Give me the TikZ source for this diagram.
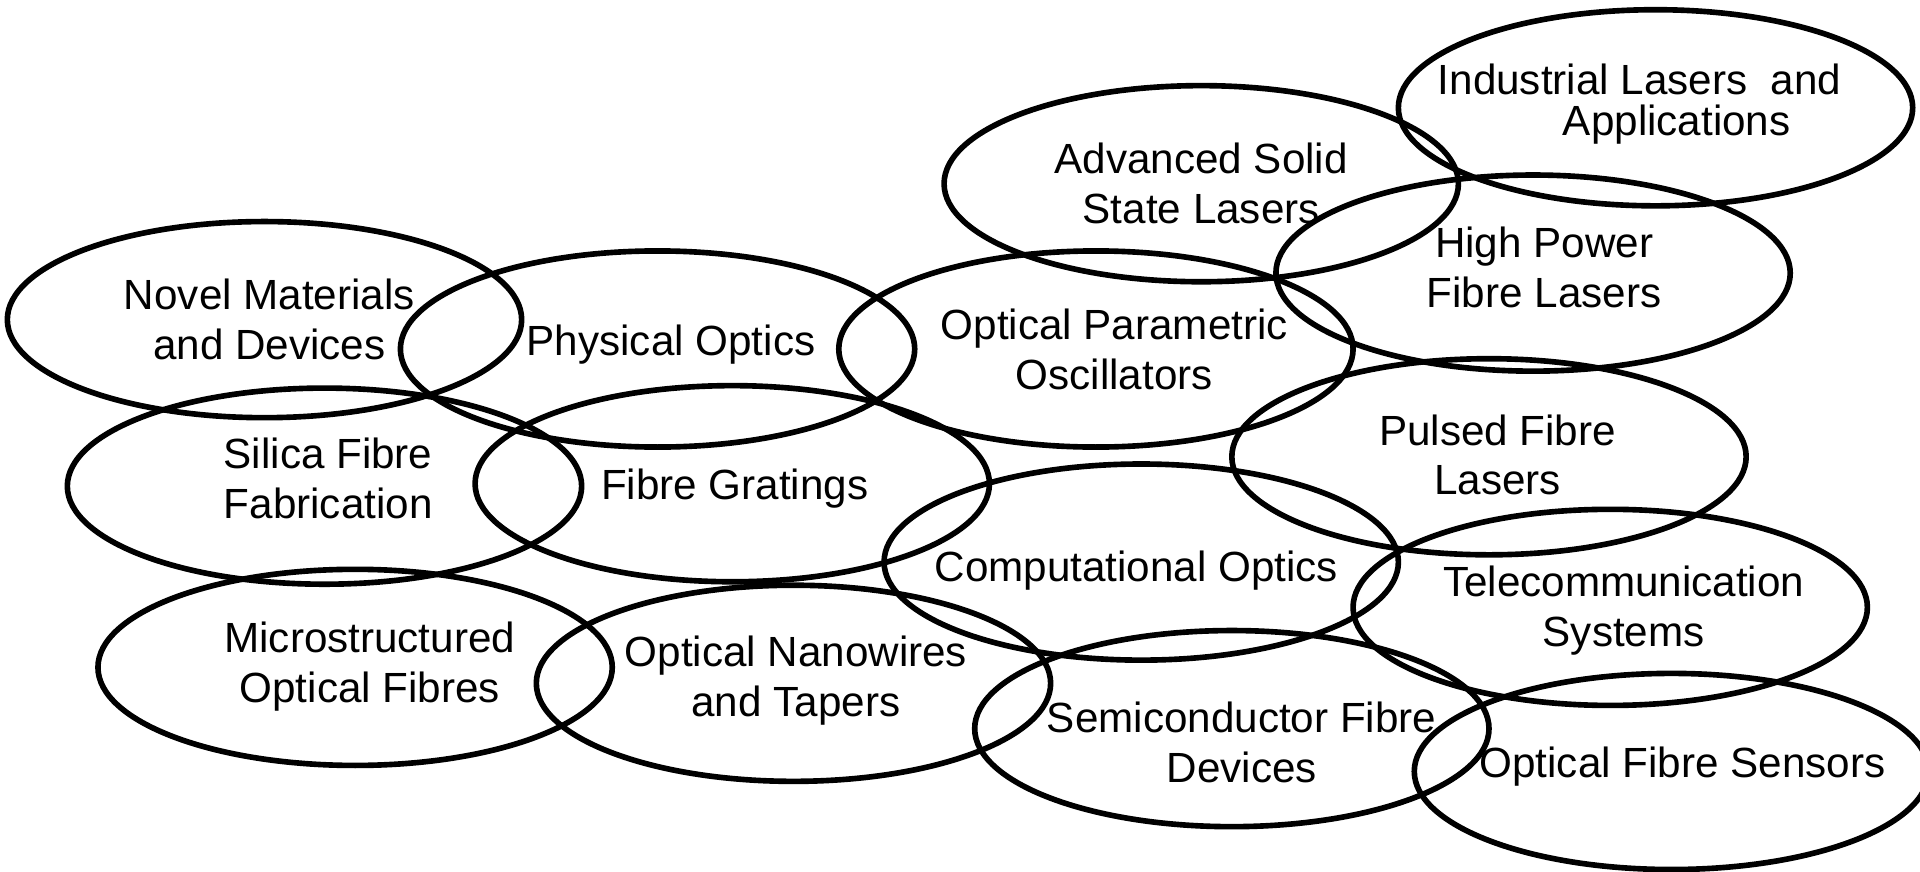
\documentclass[tikz,border=0pt]{standalone}
\usepackage{fontspec}
\setmainfont{Liberation Sans}
\usepackage{tikz}

\begin{document}
\begin{tikzpicture}[x=0.012245cm, y=-0.012245cm,
    topic/.style={line width=1.6pt},
    txt/.style={align=center, inner sep=0pt, font=\fontsize{12}{14.2}\selectfont}]
        \useasboundingbox (0, 0) rectangle (1568, 712);

        % novel materials
        \draw [topic] (216, 261) ellipse (2.57cm and 0.98cm);
        \node [txt] (novel) at (220, 260.5) {Novel Materials\\and Devices};

        % physical optics
        \draw [topic] (537, 285) ellipse (2.57cm and 0.98cm);
        \node [txt] (physical) at (548, 281) {Physical Optics};

        % optical parametric oscillators
        \draw [topic] (895, 285) ellipse (2.57cm and 0.98cm);
        \node [txt] (opo) at (910, 285.5) {Optical Parametric\\Oscillators};

        % advanced solid state lasers
        \draw [topic] (981, 150) ellipse (2.57cm and 0.98cm);
        \node [txt] (solid) at (981, 149.5) {Advanced Solid\\State Lasers};

        % industrial lasers
        \draw [topic] (1352, 88) ellipse (2.57cm and 0.98cm);
        \node [txt, align=left] (industrial) at (1339, 85)
          {Industrial Lasers\ \ and\\[-2.8pt]\hspace*{1.25cm}Applications};

        % high power fibre lasers
        \draw [topic] (1252, 223) ellipse (2.57cm and 0.98cm);
        \node [txt] (highpower) at (1261, 218.5) {High Power\\Fibre Lasers};

        % pulsed fibre lasers
        \draw [topic] (1216, 373) ellipse (2.57cm and 0.98cm);
        \node [txt] (pulsed) at (1223, 371.5) {Pulsed Fibre\\Lasers};

        % silica fibre fabrication
        \draw [topic] (265, 397) ellipse (2.57cm and 0.98cm);
        \node [txt] (silica) at (268, 390.5) {Silica Fibre\\Fabrication};

        % fibre gratings
        \draw [topic] (598, 395) ellipse (2.57cm and 0.98cm);
        \node [txt] (gratings) at (600, 399) {Fibre Gratings};

        % computational optics
        \draw [topic] (932, 459) ellipse (2.57cm and 0.98cm);
        \node [txt] (computational) at (928, 466) {Computational Optics};

        % telecommunication systems
        \draw [topic] (1315, 496) ellipse (2.57cm and 0.98cm);
        \node [txt] (telecom) at (1326, 499) {Telecommunication\\Systems};

        % microstructured optical fibres
        \draw [topic] (290, 545) ellipse (2.57cm and 0.98cm);
        \node [txt] (micro) at (302, 544) {Microstructured\\Optical Fibres};

        % optical nanowires
        \draw [topic] (648, 558) ellipse (2.57cm and 0.98cm);
        \node [txt] (nanowires) at (650, 556) {Optical Nanowires\\and Tapers};

        % semiconductor fibre devices
        \draw [topic] (1006, 595) ellipse (2.57cm and 0.98cm);
        \node [txt] (semiconductor) at (1014, 606.5) {Semiconductor Fibre\\Devices};

        % optical fibre sensors
        \draw [topic] (1365, 630) ellipse (2.57cm and 0.98cm);
        \node [txt] (sensors) at (1374, 626) {Optical Fibre Sensors};

      \end{tikzpicture}
\end{document}
